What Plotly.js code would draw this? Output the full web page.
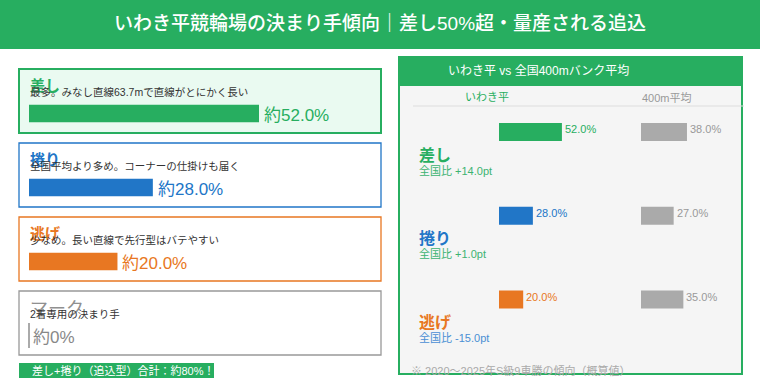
<!DOCTYPE html>
<html><head><meta charset="utf-8">
<script src="https://cdn.plot.ly/plotly-3.0.1.min.js"></script>
<style>html,body{margin:0;padding:0;background:#fff;}#chart{width:760px;height:380px;}</style>
</head><body><div id="chart"></div>
<script>
// ---- data ----
const chartTitle = 'いわき平競輪場の決まり手傾向｜差し50%超・量産される追込';
const kimarite = ['差し', '捲り', '逃げ', 'マーク'];
const iwakiShare = [52.0, 28.0, 20.0, 0];
const kimariteDesc = [
  '最多。みなし直線63.7mで直線がとにかく長い',
  '全国平均より多め。コーナーの仕掛けも届く',
  '少なめ。長い直線で先行型はバテやすい',
  '2着専用の決まり手'
];
const footerNote = '差し+捲り（追込型）合計：約80%！';
const compareTitle = 'いわき平 vs 全国400mバンク平均';
const compareHeaders = ['いわき平', '400m平均'];
const compareCats = ['差し', '捲り', '逃げ'];
const compareIwaki = [52.0, 28.0, 20.0];
const compareNational = [38.0, 27.0, 35.0];
const sourceNote = '※ 2020〜2025年S級9車勝の傾向（概算値）';

// ---- styling ----
const GREEN = '#27ae60', BLUE = '#2176c7', ORANGE = '#e87722', GRAY = '#999999';
const catColors = [GREEN, BLUE, ORANGE, GRAY];
const FONT = 'Liberation Sans, Noto Sans CJK JP, sans-serif';
const W = 760, H = 380;
const px = x => x / W, py = y => 1 - y / H;

// left bar scale: 0 at px 29
const lx0 = 29, lk = 230 / 52;
const lyc = 113.5, lpitch = 74;
// right scales
const rk = 1.21, rx0a = 499, rx0b = 641;
const ryc = 132, rpitch = 83.75;

const idxL = kimarite.map((_, i) => i);
const idxR = compareCats.map((_, i) => i);

const traces = [
  { type: 'bar', orientation: 'h', x: iwakiShare, y: idxL, xaxis: 'x', yaxis: 'y',
    width: 17.5 / lpitch, marker: { color: catColors }, hoverinfo: 'skip', textposition: 'none' },
  { type: 'scatter', mode: 'markers', xaxis: 'x', yaxis: 'y',
    x: iwakiShare.map(v => v === 0 ? v : null), y: idxL,
    marker: { symbol: 'line-ns', size: 18, line: { color: '#aaaaaa', width: 2 } }, hoverinfo: 'skip' },
  { type: 'bar', orientation: 'h', x: compareIwaki, y: idxR, xaxis: 'x2', yaxis: 'y2',
    width: 18 / rpitch, marker: { color: catColors.slice(0, 3) }, hoverinfo: 'skip' },
  { type: 'bar', orientation: 'h', x: compareNational, y: idxR, xaxis: 'x3', yaxis: 'y2',
    width: 18 / rpitch, marker: { color: '#aaaaaa' }, hoverinfo: 'skip' }
];

const shapes = [];
const annotations = [];
const rect = (x0, y0, x1, y1, fill, lc, lw) => shapes.push({ type: 'rect', xref: 'paper', yref: 'paper', layer: 'below',
  x0: px(x0), x1: px(x1), y0: py(y1), y1: py(y0), fillcolor: fill, line: { color: lc || fill, width: lw || 0 } });
const txt = (t, x, y, size, color, opt) => annotations.push(Object.assign({ text: t, xref: 'paper', yref: 'paper',
  x: px(x), y: py(y), xanchor: 'left', yanchor: 'middle', showarrow: false,
  font: { family: FONT, size: size, color: color } }, opt || {}));

// header
rect(0, 0, 760, 49, GREEN);
txt(chartTitle, 380, 24, 19, '#ffffff', { xanchor: 'center', font: { family: FONT, size: 19, color: '#fff', weight: 500 } });

// left cards
kimarite.forEach((k, i) => {
  const top = 69 + lpitch * i;
  if (i === 0) rect(19, top, 381, top + 64, '#eafaf1', GREEN, 2);
  else rect(19, top, 381, top + 64, '#ffffff', catColors[i], 1.3);
  if (i === 3) txt(k, 28, top + 18, 18, '#909090');
  else txt(k, 28, top + 16.5, 15, catColors[i], { font: { family: FONT, size: 15, color: catColors[i], weight: 'bold' } });
  txt(kimariteDesc[i], 28, top + 23, 10.5, '#333333');
  const v = iwakiShare[i];
  annotations.push({ text: v === 0 ? '約0%' : '約' + v.toFixed(1) + '%', xref: 'x', yref: 'y', x: v, y: i,
    xanchor: 'left', yanchor: 'middle', xshift: v === 0 ? 2 : 3, yshift: -1.5, showarrow: false,
    font: { family: FONT, size: 17, color: i === 3 ? '#888' : catColors[i] } });
});
rect(19, 363, 214, 378, GREEN);
txt(footerNote, 30, 370.5, 11, '#ffffff');

// right panel
rect(399, 57, 742, 374, '#f5f5f5', GREEN, 2);
rect(399, 57, 742, 86, GREEN);
shapes.push({ type: 'line', xref: 'paper', yref: 'paper', layer: 'below', x0: px(413), x1: px(744), y0: py(106), y1: py(106), line: { color: '#dddddd', width: 1 } });
txt(compareTitle, 538, 71, 12, '#ffffff', { xanchor: 'center' });
txt(compareHeaders[0], 487, 97, 11, GREEN, { xanchor: 'center' });
txt(compareHeaders[1], 667, 97, 11, GRAY, { xanchor: 'center' });
compareCats.forEach((c, i) => {
  const yc = ryc + rpitch * i;
  txt(c, 417, yc + 23, 16, catColors[i], { font: { family: FONT, size: 16, color: catColors[i], weight: 'bold' } });
  const d = compareIwaki[i] - compareNational[i];
  txt('全国比 ' + (d >= 0 ? '+' : '') + d.toFixed(1) + 'pt', 417, yc + 38, 11, d >= 0 ? '#3cb371' : '#4a8fd4');
  annotations.push({ text: compareIwaki[i].toFixed(1) + '%', xref: 'x2', yref: 'y2', x: compareIwaki[i], y: i,
    xanchor: 'left', yanchor: 'middle', xshift: 1, yshift: 3, showarrow: false,
    font: { family: FONT, size: 11, color: catColors[i] } });
  annotations.push({ text: compareNational[i].toFixed(1) + '%', xref: 'x3', yref: 'y2', x: compareNational[i], y: i,
    xanchor: 'left', yanchor: 'middle', xshift: 1, yshift: 3, showarrow: false,
    font: { family: FONT, size: 11, color: GRAY } });
});
txt(sourceNote, 409, 370, 11, '#aaaaaa');

const hid = { visible: false, showgrid: false, zeroline: false, fixedrange: true, domain: [0, 1] };
const layout = {
  width: W, height: H, margin: { l: 0, r: 0, t: 0, b: 0 },
  paper_bgcolor: '#ffffff', plot_bgcolor: 'rgba(0,0,0,0)', showlegend: false,
  font: { family: FONT },
  xaxis: Object.assign({}, hid, { range: [-lx0 / lk, (W - lx0) / lk], anchor: 'y' }),
  yaxis: Object.assign({}, hid, { range: [(H - lyc) / lpitch, -lyc / lpitch], anchor: 'x' }),
  xaxis2: Object.assign({}, hid, { range: [-rx0a / rk, (W - rx0a) / rk], anchor: 'y2' }),
  xaxis3: Object.assign({}, hid, { range: [-rx0b / rk, (W - rx0b) / rk], anchor: 'y2' }),
  yaxis2: Object.assign({}, hid, { range: [(H - ryc) / rpitch, -ryc / rpitch], anchor: 'x2' }),
  shapes: shapes, annotations: annotations
};
Plotly.newPlot('chart', traces, layout, { staticPlot: true, displayModeBar: false });
</script></body></html>
